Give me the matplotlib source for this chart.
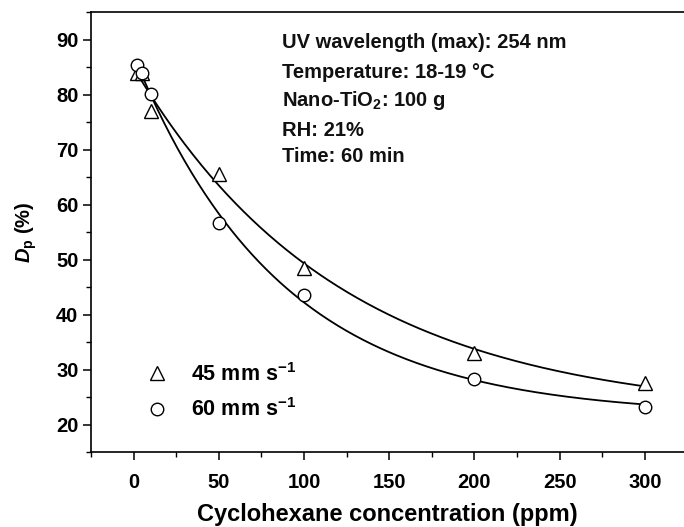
import numpy as np
import matplotlib
matplotlib.use("Agg")
import matplotlib.pyplot as plt
from matplotlib.ticker import MultipleLocator

# data
conc = [2, 5, 10, 50, 100, 200, 300]
dp_45 = [84.0, 84.0, 77.0, 65.5, 48.5, 33.0, 27.5]
dp_60 = [85.4, 84.0, 80.1, 56.7, 43.5, 28.3, 23.2]
legend_labels = ["45 mm s$^{-1}$", "60 mm s$^{-1}$"]
info_lines = ["UV wavelength (max): 254 nm",
              "Temperature: 18-19 \u00b0C",
              "Nano-TiO$_2$: 100 g",
              "RH: 21%",
              "Time: 60 min"]

plt.rcParams['font.family'] = ['Liberation Sans', 'DejaVu Sans']
plt.rcParams['font.weight'] = 'bold'
plt.rcParams['mathtext.fontset'] = 'custom'
plt.rcParams['mathtext.rm'] = 'Liberation Sans:bold'
plt.rcParams['mathtext.bf'] = 'Liberation Sans:bold'
plt.rcParams['mathtext.it'] = 'Liberation Sans:bold:italic'


def exp_fit(x, y):
    # y = y0 + A*exp(-x/t), grid search on t with linear least squares
    x = np.asarray(x, float)
    y = np.asarray(y, float)
    best = None
    for t in np.linspace(20, 400, 1500):
        M = np.column_stack([np.ones_like(x), np.exp(-x / t)])
        coef, res, *_ = np.linalg.lstsq(M, y, rcond=None)
        err = np.sum((M @ coef - y) ** 2)
        if best is None or err < best[0]:
            best = (err, coef, t)
    _, (y0, a), t = best
    return lambda xx: y0 + a * np.exp(-xx / t)


fig = plt.figure(figsize=(6.84, 5.27), dpi=100)
ax = fig.add_axes([91 / 684, 1 - 452 / 527, 1 - 91 / 684, (452 - 12) / 527])

xs = np.linspace(2, 300, 300)
for y in (dp_45, dp_60):
    ax.plot(xs, exp_fit(conc, y)(xs), color='black', lw=1.3, zorder=2)

ax.plot(conc, dp_45, linestyle='none', marker='^', ms=10, mfc='white',
        mec='black', mew=1.0, label=legend_labels[0], zorder=3)
ax.plot(conc, dp_60, linestyle='none', marker='o', ms=9, mfc='white',
        mec='black', mew=1.0, label=legend_labels[1], zorder=3)

ax.set_xlim(-25, 323)
ax.set_ylim(15, 95)
ax.xaxis.set_major_locator(MultipleLocator(50))
ax.xaxis.set_minor_locator(MultipleLocator(25))
ax.yaxis.set_major_locator(MultipleLocator(10))
ax.yaxis.set_minor_locator(MultipleLocator(5))
ax.tick_params(which='major', direction='out', length=6, width=1.1,
               labelsize=14.5, pad=3)
ax.tick_params(which='minor', direction='out', length=3.5, width=1.0)
ax.tick_params(axis='x', pad=9)
for lab in ax.get_xticklabels() + ax.get_yticklabels():
    lab.set_fontweight('bold')
ax.spines['right'].set_visible(False)
for s in ('left', 'bottom', 'top'):
    ax.spines[s].set_linewidth(1.2)

ax.set_xlabel('Cyclohexane concentration (ppm)', fontsize=17,
              fontweight='bold', labelpad=8)
ax.set_ylabel(r'$D_\mathrm{p}$ (%)', fontsize=14.5, fontweight='bold',
              labelpad=12)

leg = ax.legend(loc='lower left', bbox_to_anchor=(0.06, 0.05), frameon=False,
                prop={'size': 15.5, 'weight': 'bold'}, handletextpad=0.6,
                labelspacing=0.6, borderaxespad=0)

y_pos = [43, 73, 101, 131, 157]
for txt, yp in zip(info_lines, y_pos):
    fig.text(282 / 684, 1 - yp / 527, txt, fontsize=14.5, fontweight='bold',
             va='center', ha='left', color='#111111')

fig.savefig('out.png', dpi=100)
